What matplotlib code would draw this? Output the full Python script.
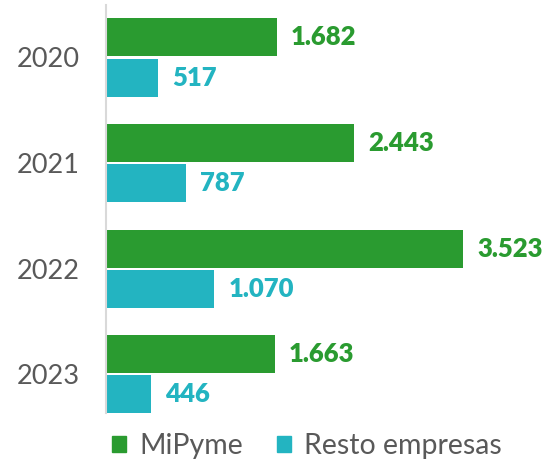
import numpy as np
import matplotlib.pyplot as plt
from matplotlib.patches import Patch

plt.rcParams['font.family'] = ['Lato', 'DejaVu Sans']

years = ["2020", "2021", "2022", "2023"]
mipyme = [1682, 2443, 3523, 1663]
resto = [517, 787, 1070, 446]
mipyme_lbl = ["1.682", "2.443", "3.523", "1.663"]
resto_lbl = ["517", "787", "1.070", "446"]

green = "#2a9b30"
teal = "#23b4c1"

fig = plt.figure(figsize=(5.52, 4.66), dpi=100)
ax = fig.add_axes([0.192, 0.113, 0.79, 0.877])

y = np.arange(len(years))
h = 0.36
ax.barh(y - 0.19, mipyme, height=h, color=green)
ax.barh(y + 0.19, resto, height=h, color=teal)

for i in range(len(years)):
    ax.text(mipyme[i] + 140, y[i] - 0.19, mipyme_lbl[i], color=green,
            fontsize=18.5, fontweight='heavy', va='center', ha='left')
    ax.text(resto[i] + 140, y[i] + 0.19, resto_lbl[i], color=teal,
            fontsize=18.5, fontweight='heavy', va='center', ha='left')

ax.set_xlim(0, 4300)
ax.set_ylim(3.37, -0.5)
ax.set_yticks(y)
ax.set_yticklabels(years, fontsize=19.5, color="#595959")
ax.tick_params(axis='y', length=0, pad=19)
ax.set_xticks([])
for s in ["top", "right", "bottom"]:
    ax.spines[s].set_visible(False)
ax.spines["left"].set_color("#d9d9d9")
ax.spines["left"].set_linewidth(1.5)

handles = [Patch(color=green, label="MiPyme"), Patch(color=teal, label="Resto empresas")]
fig.legend(handles=handles, loc="center", bbox_to_anchor=(0.556, 0.043), ncol=2,
           frameon=False, fontsize=20.5, handlelength=0.5, handleheight=0.5,
           columnspacing=1.2, handletextpad=0.45, labelcolor="#595959",
           borderpad=0, borderaxespad=0)

fig.savefig("out.png", dpi=100)
